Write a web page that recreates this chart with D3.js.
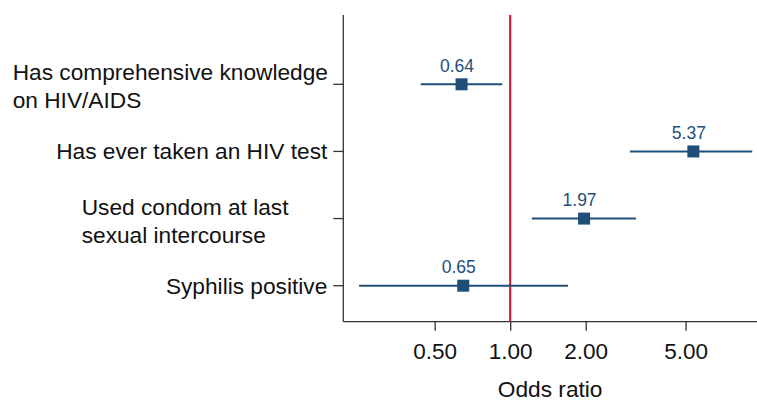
<!DOCTYPE html>
<html>
<head>
<meta charset="utf-8">
<script src="https://cdn.jsdelivr.net/npm/d3@7"></script>
<style>
  html, body { margin: 0; padding: 0; background: #fff; }
  svg { display: block; font-family: "Liberation Sans", Arial, sans-serif; }
</style>
</head>
<body>
<svg id="chart" width="757" height="401"></svg>
<script>
// ---- data ----
const categories = [
  ["Has comprehensive knowledge", "on HIV/AIDS"],
  ["Has ever taken an HIV test"],
  ["Used condom at last", "sexual intercourse"],
  ["Syphilis positive"]
];
const oddsRatios = [0.64, 5.37, 1.97, 0.65];
const ciLower = [0.44, 3.00, 1.22, 0.25];
const ciUpper = [0.93, 9.22, 3.17, 1.70];
const valueLabels = ["0.64", "5.37", "1.97", "0.65"];
const tickValues = [0.5, 1, 2, 5];
const tickLabels = ["0.50", "1.00", "2.00", "5.00"];
const referenceValue = 1;
const xTitle = "Odds ratio";

// ---- layout ----
const plot = { left: 343.3, right: 757, top: 15, bottom: 321.7 };
const labelStartX = [12.7, null, 81.7, null]; // multi-line blocks are left-aligned at these x
const blue = "#1f4e79", red = "#c8102e", axisCol = "#333333", textCol = "#111111";
const labelFont = 22.7;

const svg = d3.select("#chart");

const x = d3.scaleLog().domain([0.2162, 9.63]).range([plot.left, plot.right]);
const idx = categories.map((d, i) => i);
const y = d3.scalePoint().domain(idx).range([84.3, 285.7]);

// axes lines
svg.append("line").attr("x1", plot.left).attr("x2", plot.left)
  .attr("y1", plot.top).attr("y2", plot.bottom)
  .attr("stroke", axisCol).attr("stroke-width", 1.3);

const xAxis = d3.axisBottom(x).tickValues(tickValues)
  .tickFormat((d, i) => tickLabels[i]).tickSize(9).tickPadding(12).tickSizeOuter(0);
const gx = svg.append("g").attr("transform", `translate(0,${plot.bottom})`).call(xAxis);
gx.select(".domain").attr("stroke", axisCol).attr("stroke-width", 1.3)
  .attr("d", `M${plot.left},0H${plot.right}`);
gx.selectAll(".tick line").attr("stroke", axisCol).attr("stroke-width", 1.3);
gx.selectAll(".tick text").attr("font-size", 22.5).attr("fill", textCol)
  .attr("font-family", "Liberation Sans, Arial, sans-serif")
  .attr("dy", null).attr("y", 37.5);

// y ticks
svg.append("g").selectAll("line").data(idx).join("line")
  .attr("x1", plot.left - 10).attr("x2", plot.left)
  .attr("y1", d => y(d)).attr("y2", d => y(d))
  .attr("stroke", axisCol).attr("stroke-width", 1.3);

// category labels
const lab = svg.append("g").attr("font-size", labelFont).attr("fill", textCol);
categories.forEach((lines, i) => {
  if (lines.length === 1) {
    lab.append("text").attr("x", plot.left - 16).attr("y", y(i)).attr("dy", "0.35em")
      .attr("text-anchor", "end").text(lines[0]);
  } else {
    lines.forEach((t, j) => {
      lab.append("text").attr("x", labelStartX[i]).attr("y", y(i) - 4 + j * 28)
        .attr("text-anchor", "start").text(t);
    });
  }
});

// reference line
svg.append("line").attr("x1", x(referenceValue)).attr("x2", x(referenceValue))
  .attr("y1", plot.top).attr("y2", plot.bottom)
  .attr("stroke", red).attr("stroke-width", 2);

// CIs
svg.append("g").selectAll("line").data(idx).join("line")
  .attr("x1", d => x(ciLower[d])).attr("x2", d => x(ciUpper[d]))
  .attr("y1", d => y(d)).attr("y2", d => y(d))
  .attr("stroke", blue).attr("stroke-width", 2);

// markers
const ms = 12;
svg.append("g").selectAll("rect").data(idx).join("rect")
  .attr("x", d => x(oddsRatios[d]) - ms / 2).attr("y", d => y(d) - ms / 2)
  .attr("width", ms).attr("height", ms).attr("fill", blue);

// value labels
svg.append("g").selectAll("text").data(idx).join("text")
  .attr("x", d => x(oddsRatios[d]) - 4.5).attr("y", d => y(d) - 12.5)
  .attr("text-anchor", "middle").attr("font-size", 17.5).attr("fill", blue)
  .text(d => valueLabels[d]);

// x title
svg.append("text").attr("x", (plot.left + plot.right) / 2).attr("y", 396.5)
  .attr("text-anchor", "middle").attr("font-size", labelFont).attr("fill", textCol)
  .text(xTitle);
</script>
</body>
</html>
